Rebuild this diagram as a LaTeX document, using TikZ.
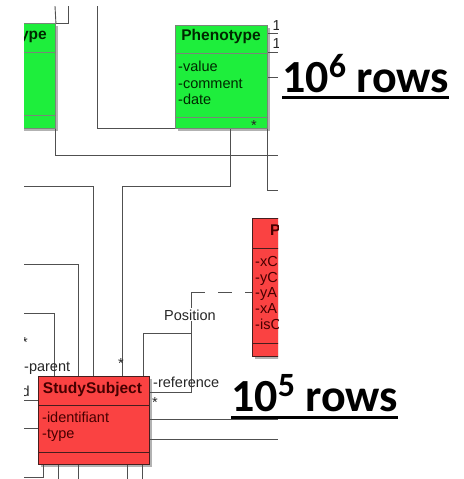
\documentclass[tikz,border=0pt]{standalone}
\usepackage{fontspec}
\setmainfont{Liberation Sans}
\newfontfamily\calib{Carlito}
\usetikzlibrary{shadows}
\definecolor{umlgreen}{RGB}{30,238,60}
\definecolor{umlred}{RGB}{250,66,66}
\definecolor{lnc}{RGB}{80,80,80}
\definecolor{gborder}{RGB}{120,135,120}
\definecolor{rborder}{RGB}{70,30,30}
\definecolor{rtext}{RGB}{70,0,0}
\definecolor{gtext}{RGB}{0,40,0}
\begin{document}
\begin{tikzpicture}[x=1pt,y=-1pt,
  conn/.style={draw=lnc, line width=0.9pt},
  umlbox/.style={draw, line width=0.9pt, inner sep=0pt, anchor=north west,
     drop shadow={shadow xshift=3pt,shadow yshift=-3pt,fill=black!30,opacity=1}},
  gbox/.style={umlbox, fill=umlgreen, draw=gborder},
  rbox/.style={umlbox, fill=umlred, draw=rborder},
  gsep/.style={draw=gborder, line width=0.9pt},
  rsep/.style={draw=rborder, line width=0.9pt},
  boxtitle/.style={font=\fontsize{15.5}{18}\selectfont\bfseries, inner sep=0pt, anchor=base},
  attr/.style={font=\fontsize{14.5}{17}\selectfont, inner sep=0pt, anchor=base west},
  lbl/.style={font=\fontsize{14.5}{17}\selectfont, inner sep=0pt, text=black!85, anchor=base west},
  big/.style={font=\calib\bfseries\fontsize{46}{50}\selectfont, inner sep=0pt, anchor=base west},
]
\useasboundingbox (0,0) rectangle (463,479);
\begin{scope}
\clip (24,6) rectangle (278,479);
% boxes
\node[gbox, minimum width=95pt, minimum height=105pt] (greenL) at (-40,23) {};
\node[gbox, minimum width=92pt, minimum height=103pt] (pheno) at (175,25) {};
\node[rbox, minimum width=80pt, minimum height=138pt] (posbox) at (252,218) {};
\node[rbox, minimum width=111pt, minimum height=88pt] (study) at (38,376) {};
% compartments
\draw[gsep] ([yshift=-29pt]greenL.north west) -- ([yshift=-29pt]greenL.north east);
\draw[gsep] ([yshift=13pt]greenL.south west) -- ([yshift=13pt]greenL.south east);
\draw[gsep] ([yshift=-28pt]pheno.north west) -- ([yshift=-28pt]pheno.north east);
\draw[gsep] ([yshift=11pt]pheno.south west) -- ([yshift=11pt]pheno.south east);
\draw[rsep] ([yshift=-30pt]posbox.north west) -- ([yshift=-30pt]posbox.north east);
\draw[rsep] ([yshift=13pt]posbox.south west) -- ([yshift=13pt]posbox.south east);
\draw[rsep] ([yshift=-29pt]study.north west) -- ([yshift=-29pt]study.north east);
\draw[rsep] ([yshift=12pt]study.south west) -- ([yshift=12pt]study.south east);
% box texts
\node[boxtitle, text=gtext, anchor=base east] (gtitle) at (47,39) {ype};
\node[boxtitle, text=gtext] (ptitle) at (221,40) {Phenotype};
\node[attr, text=gtext] (pa1) at (178,71.5) {-value};
\node[attr, text=gtext] (pa2) at (178,88) {-comment};
\node[attr, text=gtext] (pa3) at (178,104.5) {-date};
\node[boxtitle, text=rtext, anchor=base west] (postitle) at (270,235) {P};
\node[attr, text=rtext] (qa1) at (255,266) {-xC};
\node[attr, text=rtext] (qa2) at (255,282) {-yC};
\node[attr, text=rtext] (qa3) at (255,297.5) {-yA};
\node[attr, text=rtext] (qa4) at (255,313) {-xA};
\node[attr, text=rtext] (qa5) at (255,329) {-isC};
\node[boxtitle, text=rtext] (stitle) at (92.5,393) {StudySubject};
\node[attr, text=rtext] (sa1) at (42,422) {-identifiant};
\node[attr, text=rtext] (sa2) at (42,438) {-type};
% free-end coordinates
\coordinate (t1) at (55,6);
\coordinate (t2) at (68,6);
\coordinate (t3) at (97,6);
\coordinate (e1) at (278,155);
\coordinate (e2) at (278,190);
\coordinate (j1) at (122,186);
\coordinate (w1) at (24,186);
\coordinate (w2) at (24,264);
\coordinate (w3) at (24,313);
\coordinate (w4) at (24,400);
\coordinate (w5) at (24,428);
\coordinate (w6) at (24,477);
\coordinate (r1) at (278,33);
\coordinate (r2) at (278,52);
\coordinate (r3) at (278,77);
\coordinate (r4) at (278,419);
\coordinate (r5) at (278,439);
\coordinate (a0) at (191,292);
\coordinate (a1) at (191,333);
\coordinate (bb) at (0,485);
% connectors
\draw[conn] (t1) -- (greenL.north east);
\draw[conn] (t2) |- (greenL.north east);
\draw[conn] (t3) |- (pheno.south west);
\draw[conn] (greenL.south east) |- (e1);
\draw[conn] ([xshift=55pt]pheno.south west) |- (j1) -- (j1 |- study.north);
\draw[conn] (pheno.south east) |- (e2);
\draw[conn] (w1) -| ([xshift=55pt]study.north west);
\draw[conn] (w2) -| ([xshift=40pt]study.north west);
\draw[conn] (w3) -| ([xshift=16pt]study.north west);
\draw[conn] ([yshift=-8pt]pheno.north east) -- (r1);
\draw[conn] ([yshift=-27pt]pheno.north east) -- (r2);
\draw[conn] ([yshift=-52pt]pheno.north east) -- (r3);
\draw[conn] (w4) -- (w4 -| study.west);
\draw[conn] (w5) -- (w5 -| study.west);
\draw[conn] (r4 -| study.east) -- (r4);
\draw[conn] (r5 -| study.east) -- (r5);
\draw[conn] ([xshift=5pt]study.south west) |- (w6);
\draw[conn] ([xshift=20pt]study.south west) -- ([xshift=20pt]study.south west |- bb);
\draw[conn] ([xshift=40pt]study.south west) -- ([xshift=40pt]study.south west |- bb);
\draw[conn] ([xshift=89pt]study.south west) -- ([xshift=89pt]study.south west |- bb);
\draw[conn] ([xshift=104pt]study.south west) -- ([xshift=104pt]study.south west |- bb);
\draw[conn] ([xshift=105pt]study.north west) |- (a1) |- ([yshift=-16pt]study.north east);
\draw[conn] (a0) -- (a1);
\draw[conn, dash pattern=on 14pt off 13pt] (a0) -- (a0 -| posbox.west);
% labels
\node[lbl, anchor=base, fill=white, inner sep=1pt] (poslbl) at (190,320) {Position};
\node[lbl] (reflbl) at (153,387) {-reference};
\node[lbl] (parlbl) at (24,371) {-parent};
\node[lbl, anchor=base east] (dlbl) at (30,396) {d};
\node[lbl, anchor=center] (m1) at (155,403) {*};
\node[lbl, anchor=center] (m2) at (121,364) {*};
\node[lbl, anchor=center] (m3) at (25,343) {*};
\node[lbl, anchor=center] (m4) at (254,126) {*};
\node[lbl] (one1) at (272.5,30) {1};
\node[lbl] (one2) at (272.5,48.5) {1};
\end{scope}
% big labels
\node[big] (rows6) at (282,92) {10\raisebox{15pt}{\fontsize{34}{34}\selectfont 6} rows};
\draw[line width=2.5pt] ([yshift=-5.5pt]rows6.base west) -- ([yshift=-5.5pt]rows6.base east);
\node[big] (rows5) at (231,411) {10\raisebox{15pt}{\fontsize{34}{34}\selectfont 5} rows};
\draw[line width=2.5pt] ([yshift=-6.5pt]rows5.base west) -- ([yshift=-6.5pt]rows5.base east);
\end{tikzpicture}
\end{document}
